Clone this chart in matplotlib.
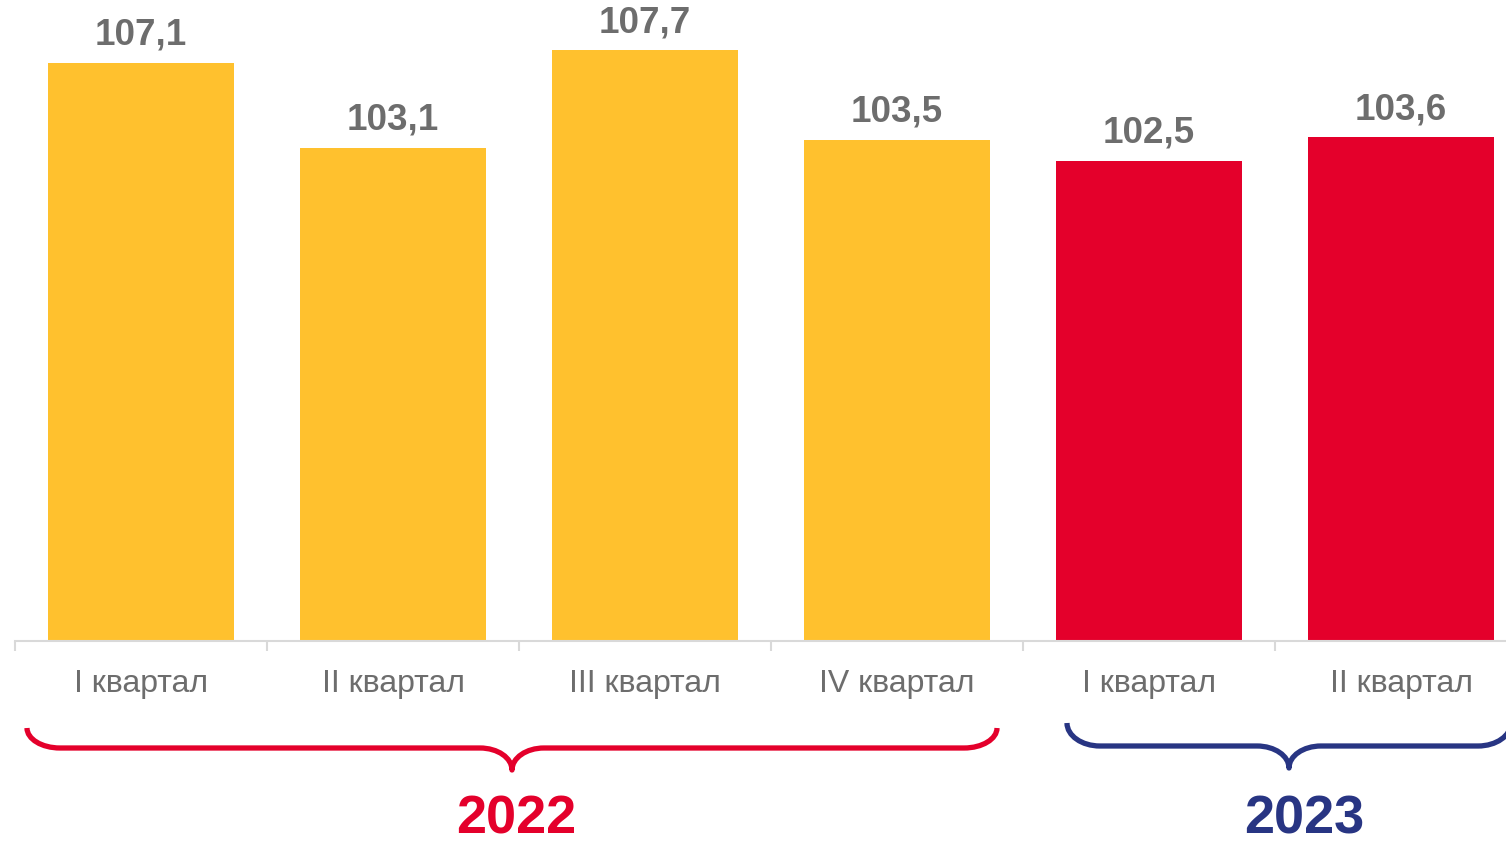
import matplotlib
matplotlib.use("Agg")
import matplotlib.pyplot as plt
from matplotlib.path import Path
from matplotlib.patches import PathPatch
from matplotlib.ticker import FixedLocator

plt.rcParams['font.family'] = ['Liberation Sans', 'DejaVu Sans']

# ---------------------------------------------------------
# Data
# ---------------------------------------------------------
quarters = ["I квартал", "II квартал", "III квартал", "IV квартал",
            "I квартал", "II квартал"]
values = [107.1, 103.1, 107.7, 103.5, 102.5, 103.6]
years = ["2022", "2022", "2022", "2022", "2023", "2023"]

bar_colors = {"2022": "#FFC12E", "2023": "#E4002B"}
brace_colors = {"2022": "#E4002B", "2023": "#283583"}
grey = "#6D6D6D"

W, H = 1506, 846
fig = plt.figure(figsize=(W / 100, H / 100), dpi=100)

# main axes: baseline at y=641px, categories 252px apart starting at x=15px
ax = fig.add_axes([15 / W, (H - 641) / H, 1512 / W, 641 / H])
x = list(range(len(values)))
ax.bar(x, values, width=0.738, color=[bar_colors[y] for y in years], zorder=2)
ax.set_xlim(-0.5, len(values) - 0.5)
ax.set_ylim(79.9, 79.9 + 641 / 21.25)

for xi, v in zip(x, values):
    ax.annotate(f"{v:.1f}".replace(".", ","), (xi, v), xytext=(0, 13),
                textcoords="offset points", ha="center", va="baseline",
                fontsize=26.5, fontweight="bold", color=grey)

for s in ["top", "right", "left"]:
    ax.spines[s].set_visible(False)
ax.spines["bottom"].set_color("#D9D9D9")
ax.spines["bottom"].set_linewidth(1.5)
ax.set_yticks([])
ax.set_xticks(x)
ax.set_xticklabels(quarters, fontsize=23, color=grey)
ax.tick_params(axis="x", which="major", length=0, pad=20)
ax.xaxis.set_minor_locator(FixedLocator([i - 0.5 for i in range(len(values) + 1)]))
ax.tick_params(axis="x", which="minor", length=7, width=1.5, color="#D9D9D9")

# ---------------------------------------------------------
# Braces + year labels (overlay in pixel coordinates)
# ---------------------------------------------------------
ov = fig.add_axes([0, 0, 1, 1])
ov.set_xlim(0, W)
ov.set_ylim(H, 0)
ov.axis("off")

k = 0.5523


def brace(x0, x1, ytop, yh, ybot, color, rx=33, rx2=32):
    xm = (x0 + x1) / 2
    ry = yh - ytop
    ry2 = ybot - yh
    verts = [
        (x0, ytop),
        (x0, ytop + k * ry), (x0 + rx - k * rx, yh), (x0 + rx, yh),
        (xm - rx2, yh),
        (xm - rx2 + k * rx2, yh), (xm, ybot - k * ry2), (xm, ybot),
        (xm, ybot - k * ry2), (xm + rx2 - k * rx2, yh), (xm + rx2, yh),
        (x1 - rx, yh),
        (x1 - rx + k * rx, yh), (x1, ytop + k * ry), (x1, ytop),
    ]
    codes = ([Path.MOVETO] + [Path.CURVE4] * 3 + [Path.LINETO]
             + [Path.CURVE4] * 6 + [Path.LINETO] + [Path.CURVE4] * 3)
    ov.add_patch(PathPatch(Path(verts, codes), fill=False, edgecolor=color,
                           lw=3.8, capstyle="butt", joinstyle="round"))


brace(27, 997, 728, 748, 770, brace_colors["2022"])
brace(1067, 1511, 723, 746, 768, brace_colors["2023"])

ov.text(516, 834, "2022", ha="center", va="baseline", fontsize=39,
        fontweight="bold", color=brace_colors["2022"])
ov.text(1304, 834, "2023", ha="center", va="baseline", fontsize=39,
        fontweight="bold", color=brace_colors["2023"])

fig.savefig("out.png", dpi=100)
